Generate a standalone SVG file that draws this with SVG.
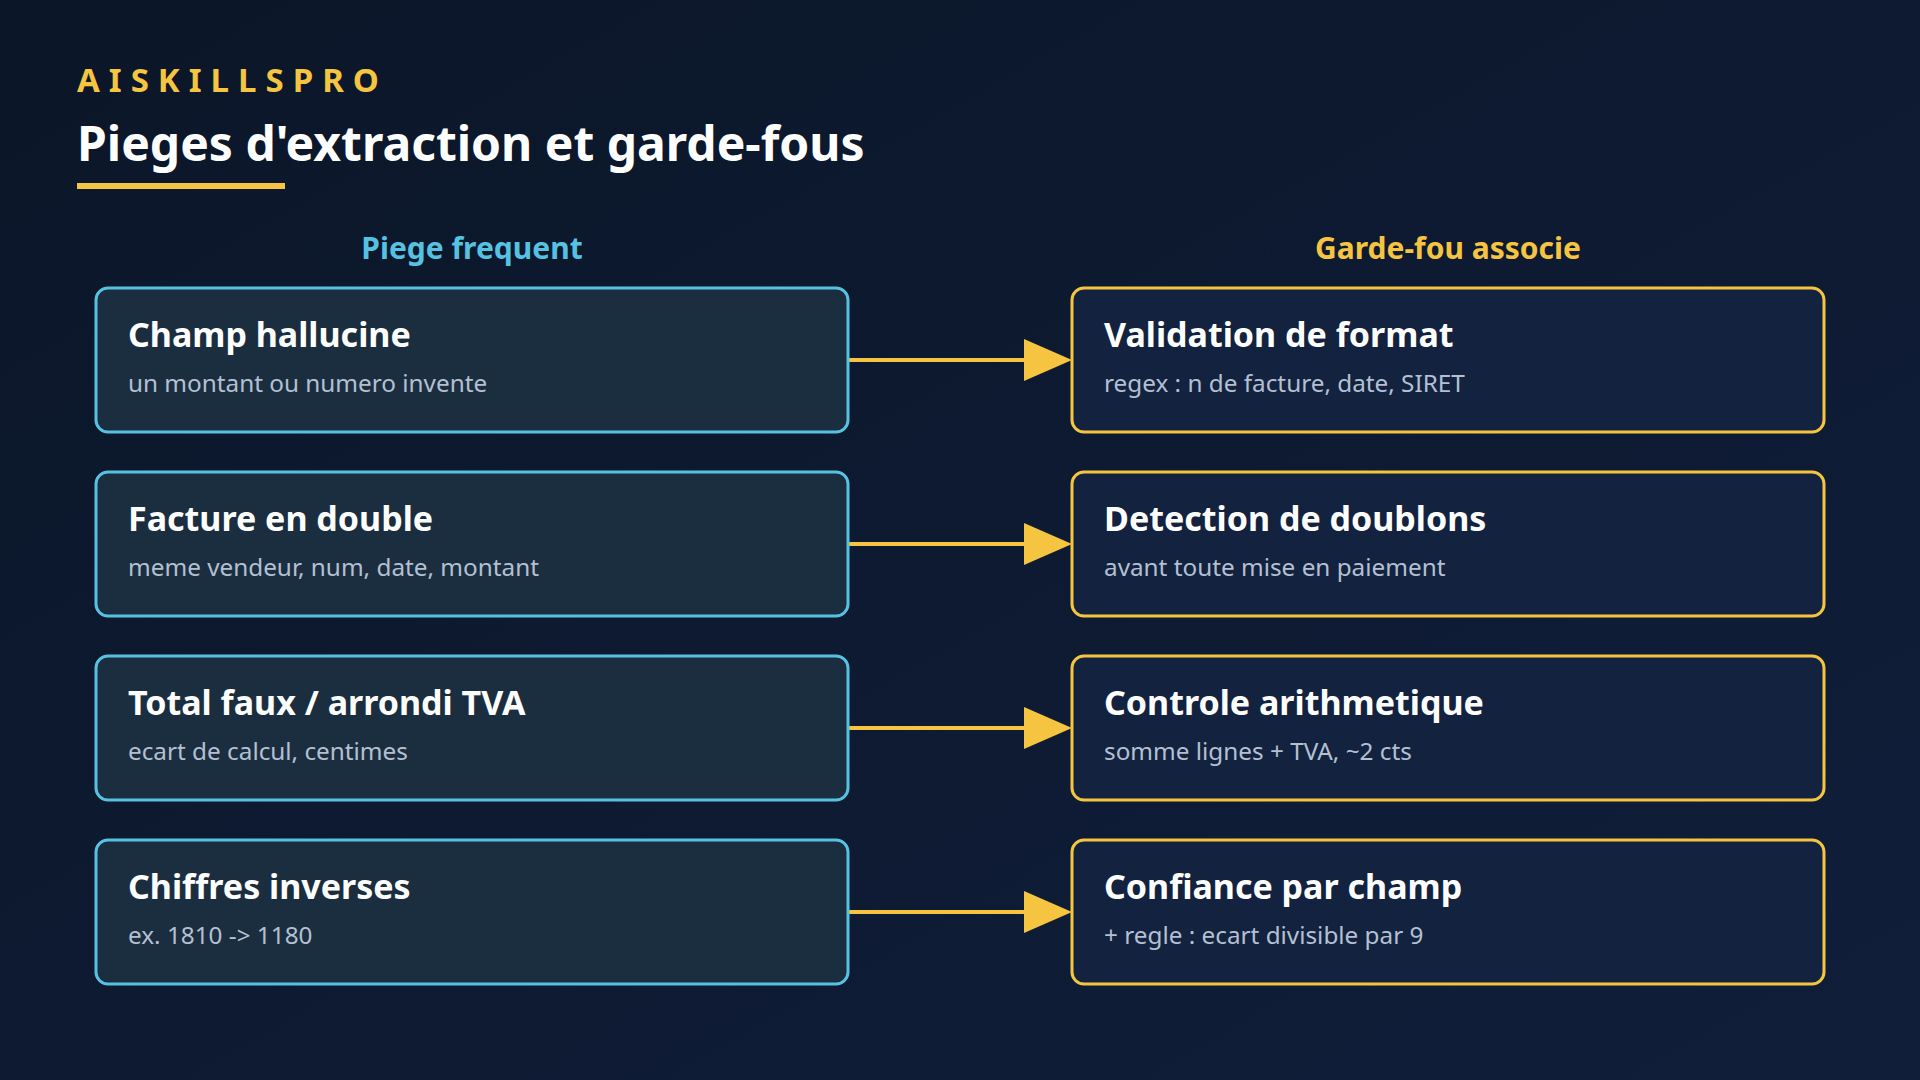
<svg xmlns="http://www.w3.org/2000/svg" width="1920" height="1080" viewBox="0 0 1920 1080">
<defs>
<linearGradient id="bg" x1="0" y1="0" x2="1" y2="1">
<stop offset="0" stop-color="#0b1628"/>
<stop offset="1" stop-color="#101e3a"/>
</linearGradient>
<style>
.brand{font-family:"Noto Sans","Open Sans",sans-serif;font-weight:700;font-size:33px;letter-spacing:9px;fill:#f5c542}
.title{font-family:"Noto Sans","Open Sans",sans-serif;font-weight:700;font-size:48px;fill:#ffffff}
.colL{font-family:"Noto Sans","Open Sans",sans-serif;font-weight:700;font-size:30px;fill:#56c1e0}
.colR{font-family:"Noto Sans","Open Sans",sans-serif;font-weight:700;font-size:30px;fill:#f5c542}
.boxL{fill:#1b2e40;stroke:#56c1e0;stroke-width:3}
.boxR{fill:#13223f;stroke:#f5c542;stroke-width:3}
.h{font-family:"Noto Sans","Open Sans",sans-serif;font-weight:700;font-size:34px;fill:#ffffff}
.s{font-family:"Noto Sans","Open Sans",sans-serif;font-size:24.3px;fill:#b4c0d2}
.conn{stroke:#f5c542;stroke-width:4;fill:none}
.head{fill:#f5c542}
</style>
</defs>
<rect width="1920" height="1080" fill="url(#bg)"/>
<g id="header">
<text class="brand" x="77" y="92">AISKILLSPRO</text>
<text class="title" x="77" y="161">Pieges d'extraction et garde-fous</text>
<rect x="77" y="183" width="208" height="6" fill="#f5c542"/>
<text class="colL" x="472" y="259" text-anchor="middle">Piege frequent</text>
<text class="colR" x="1448" y="259" text-anchor="middle">Garde-fou associe</text>
</g>
<g id="connectors">
<line class="conn" x1="848" y1="360" x2="1024" y2="360"/>
<path class="head" d="M1024,339 L1072,360 L1024,381 Z"/>
<line class="conn" x1="848" y1="544" x2="1024" y2="544"/>
<path class="head" d="M1024,523 L1072,544 L1024,565 Z"/>
<line class="conn" x1="848" y1="728" x2="1024" y2="728"/>
<path class="head" d="M1024,707 L1072,728 L1024,749 Z"/>
<line class="conn" x1="848" y1="912" x2="1024" y2="912"/>
<path class="head" d="M1024,891 L1072,912 L1024,933 Z"/>
</g>
<g id="trap1"><rect class="boxL" x="96" y="288" width="752" height="144" rx="12"/><text class="h" x="128" y="347">Champ hallucine</text><text class="s" x="128" y="392">un montant ou numero invente</text></g>
<g id="trap2"><rect class="boxL" x="96" y="472" width="752" height="144" rx="12"/><text class="h" x="128" y="531">Facture en double</text><text class="s" x="128" y="576">meme vendeur, num, date, montant</text></g>
<g id="trap3"><rect class="boxL" x="96" y="656" width="752" height="144" rx="12"/><text class="h" x="128" y="715">Total faux / arrondi TVA</text><text class="s" x="128" y="760">ecart de calcul, centimes</text></g>
<g id="trap4"><rect class="boxL" x="96" y="840" width="752" height="144" rx="12"/><text class="h" x="128" y="899">Chiffres inverses</text><text class="s" x="128" y="944">ex. 1810 -&gt; 1180</text></g>
<g id="guard1"><rect class="boxR" x="1072" y="288" width="752" height="144" rx="12"/><text class="h" x="1104" y="347">Validation de format</text><text class="s" x="1104" y="392">regex : n de facture, date, SIRET</text></g>
<g id="guard2"><rect class="boxR" x="1072" y="472" width="752" height="144" rx="12"/><text class="h" x="1104" y="531">Detection de doublons</text><text class="s" x="1104" y="576">avant toute mise en paiement</text></g>
<g id="guard3"><rect class="boxR" x="1072" y="656" width="752" height="144" rx="12"/><text class="h" x="1104" y="715">Controle arithmetique</text><text class="s" x="1104" y="760">somme lignes + TVA, ~2 cts</text></g>
<g id="guard4"><rect class="boxR" x="1072" y="840" width="752" height="144" rx="12"/><text class="h" x="1104" y="899">Confiance par champ</text><text class="s" x="1104" y="944">+ regle : ecart divisible par 9</text></g>
</svg>
